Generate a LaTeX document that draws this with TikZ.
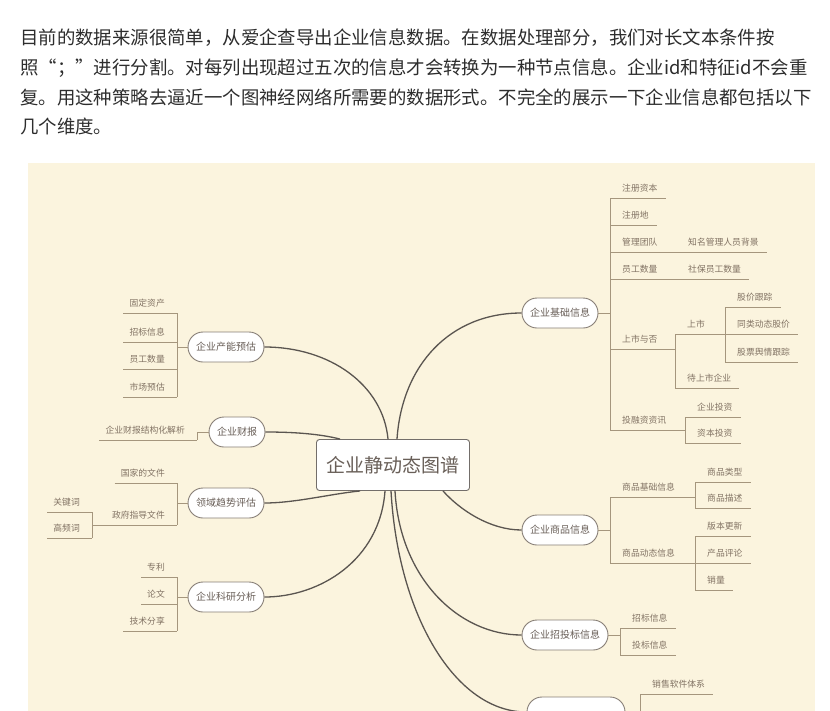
\documentclass[tikz,border=0pt]{standalone}
\usepackage{fontspec}
\setmainfont{Noto Sans CJK SC}
\usepackage{xcolor}
\usetikzlibrary{calc}
\definecolor{paper}{RGB}{251,244,222}
\definecolor{bodytext}{RGB}{45,45,45}
\definecolor{trunk}{RGB}{90,85,80}
\definecolor{twig}{RGB}{165,150,125}
\definecolor{twigtext}{RGB}{130,115,100}
\definecolor{pilltext}{RGB}{105,95,88}
\definecolor{pillrim}{RGB}{135,126,118}

\begin{document}
\begin{tikzpicture}[x=1pt,y=-1pt,line join=round,
  para/.style={anchor=west,inner sep=0pt,text=bodytext,font=\fontsize{18.4}{22}\selectfont},
  hub/.style={draw=trunk!85,line width=0.9pt,fill=white,rounded corners=3pt,minimum width=153pt,minimum height=51pt,inner xsep=10pt,text=pilltext,font=\fontsize{19}{22}\selectfont},
  topic/.style={draw=pillrim,line width=0.9pt,fill=white,rounded corners=15pt,minimum height=30pt,inner xsep=8pt,text=pilltext,font=\fontsize{10}{12}\selectfont},
  trunkline/.style={draw=trunk,line width=1.3pt},
  twigline/.style={draw=twig,line width=1pt},
  leaf/.style={inner xsep=0pt,inner ysep=5pt,text height=7pt,text depth=1.5pt,text=twigtext,font=\fontsize{8.8}{10}\selectfont,
    append after command={(\tikzlastnode.south west) edge[twigline] (\tikzlastnode.south east)}},
  rleaf/.style={leaf,anchor=south west,execute at begin node=\hspace*{12pt},execute at end node=\hspace*{8pt}},
  lleaf/.style={leaf,anchor=south east,execute at begin node=\hspace*{6pt},execute at end node=\hspace*{12pt}},
]
  \useasboundingbox (0,0) rectangle (830,710);
  \clip (0,0) rectangle (830,710);

  % text above the map
  \node[para] (l1) at (20,38) {目前的数据来源很简单，从爱企查导出企业信息数据。在数据处理部分，我们对长文本条件按};
  \node[para] (l2) at (20,68) {照“；”进行分割。对每列出现超过五次的信息才会转换为一种节点信息。企业id和特征id不会重};
  \node[para] (l3) at (20,97) {复。用这种策略去逼近一个图神经网络所需要的数据形式。不完全的展示一下企业信息都包括以下};
  \node[para] (l4) at (20,126) {几个维度。};

  \fill[paper] (28,163) rectangle (815,712);

  % hub and topics
  \node[hub] (hub) at (393,465) {企业静动态图谱};
  \node[topic] (jichu) at (560,313) {企业基础信息};
  \node[topic] (channeng) at (226,347) {企业产能预估};
  \node[topic] (caibao) at (237,432) {企业财报};
  \node[topic] (lingyu) at (226,503) {领域趋势评估};
  \node[topic] (keyan) at (226,597) {企业科研分析};
  \node[topic] (shangpin) at (560,530) {企业商品信息};
  \node[topic] (zhaotou) at (565,635) {企业招投标信息};
  \node[topic,minimum width=98pt] (lower) at (576,712) {};

  \draw[trunkline] ([xshift=4pt]hub.north) .. controls (402,365) and (450,313) .. (jichu.west);
  \draw[trunkline] ([xshift=-5pt]hub.north) .. controls (383,385) and (330,347) .. (channeng.east);
  \draw[trunkline] ([xshift=24pt]hub.north west) .. controls (320,434) and (295,432) .. (caibao.east);
  \draw[trunkline] ([xshift=44pt]hub.south west) .. controls (330,494) and (295,503) .. (lingyu.east);
  \draw[trunkline] ([xshift=-8pt]hub.south) .. controls (380,560) and (320,597) .. (keyan.east);
  \draw[trunkline] ([xshift=2pt]hub.south) .. controls (400,580) and (460,635) .. (zhaotou.west);
  \draw[trunkline] ([xshift=-2pt]hub.south) .. controls (398,615) and (455,712) .. (lower.west);
  \draw[trunkline] ([xshift=50pt]hub.south) .. controls (460,510) and (490,530) .. (shangpin.west);

  % 企业基础信息
  \node[rleaf] (zczb) at (610,198) {注册资本};
  \node[rleaf] (zcd) at (610,225) {注册地};
  \node[rleaf] (gltd) at (610,252) {管理团队};
  \node[rleaf] (zmgl) at (676,252) {知名管理人员背景};
  \node[rleaf] (ygsl) at (610,279) {员工数量};
  \node[rleaf] (sbyg) at (676,279) {社保员工数量};
  \node[rleaf] (ssyf) at (610,349) {上市与否};
  \node[rleaf] (ss) at (675,334) {上市};
  \node[rleaf] (dss) at (675,388) {待上市企业};
  \node[rleaf] (gjgz) at (725,307) {股价跟踪};
  \node[rleaf] (tldt) at (725,334) {同类动态股价};
  \node[rleaf] (gpyq) at (725,362) {股票舆情跟踪};
  \node[rleaf] (trz) at (610,430) {投融资资讯};
  \node[rleaf] (qytz) at (685,417) {企业投资};
  \node[rleaf] (zbtz) at (685,443) {资本投资};
  \draw[twigline] (jichu.east) -- (zczb.south west |- jichu.east);
  \draw[twigline] (zczb.south west) -- (trz.south west);
  \draw[twigline] (gltd.south east) -- (zmgl.south west);
  \draw[twigline] (ygsl.south east) -- (sbyg.south west);
  \draw[twigline] (ssyf.south east) -- (ss.south west |- ssyf.south east);
  \draw[twigline] (ss.south west) -- (dss.south west);
  \draw[twigline] (ss.south east) -- (gjgz.south west |- ss.south east);
  \draw[twigline] (gjgz.south west) -- (gpyq.south west);
  \draw[twigline] (trz.south east) -- (qytz.south west |- trz.south east);
  \draw[twigline] (qytz.south west) -- (zbtz.south west);

  % 企业产能预估
  \node[lleaf] (gdzc) at (177,313) {固定资产};
  \node[lleaf] (zbxx) at (177,342) {招标信息};
  \node[lleaf] (ygsl2) at (177,369) {员工数量};
  \node[lleaf] (scyg) at (177,397) {市场预估};
  \draw[twigline] (channeng.west) -- (gdzc.south east |- channeng.west);
  \draw[twigline] (gdzc.south east) -- (scyg.south east);

  % 企业财报
  \node[lleaf] (cbjg) at (197,440) {企业财报结构化解析};
  \draw[twigline] (caibao.west) -| (cbjg.south east);

  % 领域趋势评估
  \node[lleaf] (gjwj) at (177,483) {国家的文件};
  \node[lleaf] (zfzd) at (177,525) {政府指导文件};
  \node[lleaf] (gjc) at (92,512) {关键词};
  \node[lleaf] (gpc) at (92,538) {高频词};
  \draw[twigline] (lingyu.west) -- (gjwj.south east |- lingyu.west);
  \draw[twigline] (gjwj.south east) -- (zfzd.south east);
  \draw[twigline] (zfzd.south west) -- (gjc.south east |- zfzd.south west);
  \draw[twigline] (gjc.south east) -- (gpc.south east);

  % 企业科研分析
  \node[lleaf] (zl) at (177,577) {专利};
  \node[lleaf] (lw) at (177,604) {论文};
  \node[lleaf] (jsfx) at (177,631) {技术分享};
  \draw[twigline] (keyan.west) -- (zl.south east |- keyan.west);
  \draw[twigline] (zl.south east) -- (jsfx.south east);

  % 企业商品信息
  \node[rleaf] (spjc) at (610,497) {商品基础信息};
  \node[rleaf] (spdt) at (610,563) {商品动态信息};
  \node[rleaf] (splx) at (695,482) {商品类型};
  \node[rleaf] (spms) at (695,508) {商品描述};
  \node[rleaf] (bbgx) at (695,536) {版本更新};
  \node[rleaf] (cppl) at (695,563) {产品评论};
  \node[rleaf] (xl) at (695,590) {销量};
  \draw[twigline] (shangpin.east) -- (spjc.south west |- shangpin.east);
  \draw[twigline] (spjc.south west) -- (spdt.south west);
  \draw[twigline] (spjc.south east) -- (splx.south west |- spjc.south east);
  \draw[twigline] (splx.south west) -- (spms.south west);
  \draw[twigline] (spdt.south east) -- (cppl.south west);
  \draw[twigline] (bbgx.south west) -- (xl.south west);

  % 企业招投标信息
  \node[rleaf] (zbxx2) at (620,628) {招标信息};
  \node[rleaf] (tbxx) at (620,655) {投标信息};
  \draw[twigline] (zhaotou.east) -- (zbxx2.south west |- zhaotou.east);
  \draw[twigline] (zbxx2.south west) -- (tbxx.south west);

  % lowest topic, cut by the page edge
  \node[rleaf] (xsrj) at (640,694) {销售软件体系};
  \coordinate (xsrjend) at (640,730);
  \draw[twigline] (lower.east) -- (xsrj.south west |- lower.east);
  \draw[twigline] (xsrj.south west) -- (xsrjend);
\end{tikzpicture}
\end{document}
